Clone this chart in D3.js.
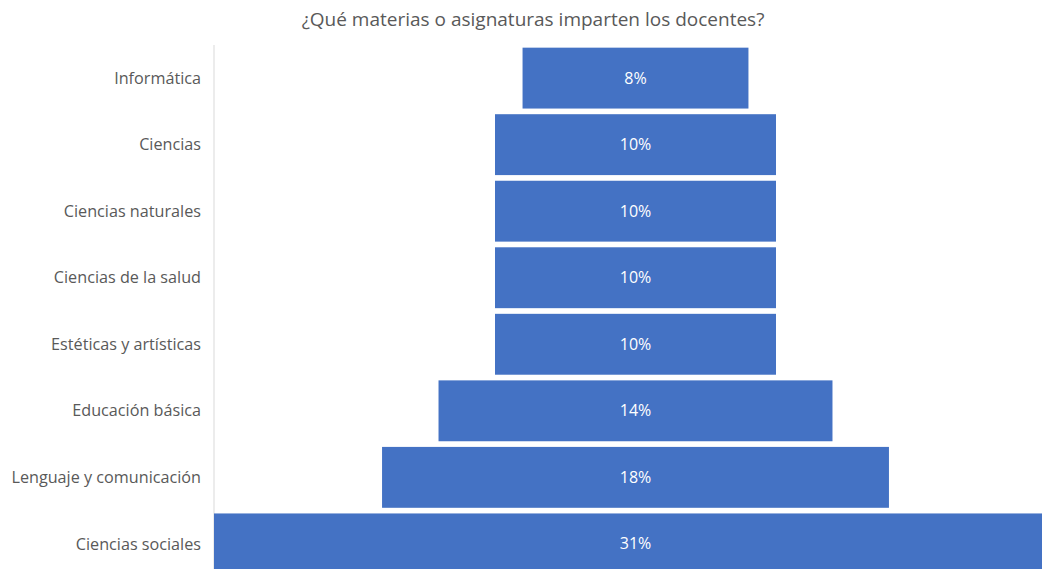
<!DOCTYPE html>
<html><head><meta charset="utf-8">
<script src="https://cdn.jsdelivr.net/npm/d3@7"></script>
<style>body{margin:0;background:#fff;overflow:hidden}svg{display:block}</style>
</head><body>
<svg id="c" width="1042" height="569"></svg>
<script>
const title = "¿Qué materias o asignaturas imparten los docentes?";
const categories = ["Informática","Ciencias","Ciencias naturales","Ciencias de la salud","Estéticas y artísticas","Educación básica","Lenguaje y comunicación","Ciencias sociales"];
const values = [8.2, 10.2, 10.2, 10.2, 10.2, 14.3, 18.4, 30.6];

const svg = d3.select("#c");
const font = "'Open Sans', sans-serif";
const plot = {left: 214, right: 1057, top: 45, bottom: 577};
const center = (plot.left + plot.right) / 2;

const y = d3.scaleBand().domain(categories).range([plot.top, plot.bottom]).paddingInner(0.085).paddingOuter(0.04);
const w = d3.scaleLinear().domain([0, d3.max(values)]).range([0, plot.right - plot.left]);
const data = categories.map((c, i) => ({c, v: values[i]}));

svg.append("text").attr("x", 533).attr("y", 26).attr("text-anchor", "middle")
  .attr("font-family", font).attr("font-size", 19).attr("fill", "#595959").text(title);

svg.append("line").attr("x1", plot.left).attr("x2", plot.left).attr("y1", plot.top).attr("y2", 569)
  .attr("stroke", "#d9d9d9").attr("stroke-width", 1);

svg.selectAll("rect.bar").data(data).join("rect").attr("class", "bar")
  .attr("x", d => center - w(d.v) / 2).attr("width", d => w(d.v))
  .attr("y", d => y(d.c)).attr("height", y.bandwidth()).attr("fill", "#4472C4");

svg.selectAll("text.val").data(data).join("text").attr("class", "val")
  .attr("x", center).attr("y", d => y(d.c) + y.bandwidth() / 2).attr("dy", "0.35em")
  .attr("text-anchor", "middle").attr("font-family", font).attr("font-size", 16).attr("fill", "#fff")
  .text(d => Math.round(d.v) + "%");

svg.selectAll("text.cat").data(data).join("text").attr("class", "cat")
  .attr("x", 201).attr("y", d => y(d.c) + y.bandwidth() / 2).attr("dy", "0.35em")
  .attr("text-anchor", "end").attr("font-family", font).attr("font-size", 16.2).attr("fill", "#595959")
  .text(d => d.c);
</script>
</body></html>
